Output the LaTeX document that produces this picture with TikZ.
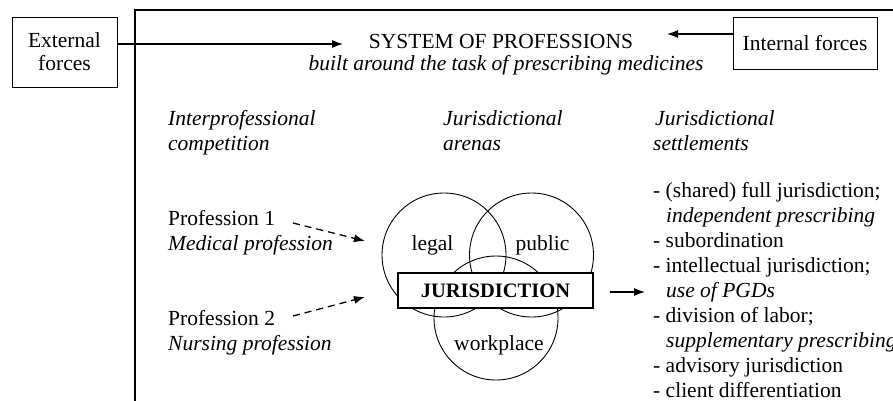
\documentclass[tikz,border=0pt]{standalone}
\usepackage{fontspec}
\setmainfont{Liberation Serif}
\usetikzlibrary{arrows.meta}
\begin{document}
\begin{tikzpicture}[x=1pt,y=-1pt,
  txt/.style={anchor=base west, inner sep=0pt, font=\fontsize{21.5}{25}\selectfont},
  itx/.style={anchor=base west, inner sep=0pt, font=\fontsize{21.5}{25}\selectfont\itshape},
  ctx/.style={anchor=base, inner sep=0pt, font=\fontsize{21.5}{25}\selectfont},
  arr/.style={-{Latex[length=11pt,width=8pt]}, line width=1.2pt},
  darr/.style={-{Latex[length=11pt,width=8pt]}, line width=1.3pt, dash pattern=on 7pt off 5pt},
  forcebox/.style={draw, line width=0.9pt, align=center, font=\fontsize{21.5}{23}\selectfont, inner sep=0pt},
  arena/.style={draw, circle, line width=0.9pt, minimum size=124pt, inner sep=0pt},
  jurbox/.style={draw, line width=2.6pt, fill=white, minimum width=195pt, minimum height=35pt, inner sep=0pt, font=\fontsize{20.5}{24}\selectfont\bfseries},
]
\useasboundingbox (0,0) rectangle (893,400);
\fill[white] (0,0) rectangle (893,400);
% frame (clipped by the page)
\coordinate (fTL) at (135,10);
\coordinate (fBL) at (135,410);
\coordinate (fTR) at (900,10);
\draw[line width=1.3pt] (fBL) -- (fTL) -- (fTR);

% forces
\node[forcebox, minimum width=105pt, minimum height=70pt] (ext) at (64.5,52) {External\\forces};
\node[forcebox, minimum width=144pt, minimum height=52pt] (int) at (805,43) {Internal forces};
\node[ctx] (sys) at (501,48) {SYSTEM OF PROFESSIONS};
\node[ctx, font=\fontsize{21.5}{25}\selectfont\itshape] (task) at (506,70) {built around the task of prescribing medicines};

\coordinate (extin) at (343,44);
\coordinate (intin) at (667,34);
\draw[arr] (ext.east |- extin) -- (extin);
\draw[arr] (int.west |- intin) -- (intin);

% headers
\node[itx] (h1a) at (168,125) {Interprofessional};
\node[itx] (h1b) at (168,150) {competition};
\node[itx] (h2a) at (443,125) {Jurisdictional};
\node[itx] (h2b) at (443,150) {arenas};
\node[itx] (h3a) at (655,125) {Jurisdictional};
\node[itx] (h3b) at (653,150) {settlements};

% professions
\node[txt] (p1) at (168,225) {Profession 1};
\node[itx] (p1b) at (168,250) {Medical profession};
\node[txt] (p2) at (168,325) {Profession 2};
\node[itx] (p2b) at (168,350) {Nursing profession};

\coordinate (d1s) at (293,223);
\coordinate (d1e) at (365,241);
\coordinate (d2s) at (293,316);
\coordinate (d2e) at (365,297);
\draw[darr] (d1s) -- (d1e);
\draw[darr] (d2s) -- (d2e);

% arenas
\node[arena] (legal) at (444,255) {};
\node[arena] (public) at (531.5,255) {};
\node[arena] (work) at (496,318) {};
\node[ctx] (legalt) at (432.5,250) {legal};
\node[ctx] (publict) at (542.5,250) {public};
\node[ctx] (workt) at (499,350) {workplace};
\node[jurbox] (jur) at (495.5,290.5) {JURISDICTION};

\coordinate (jurout) at (610,292);
\coordinate (setin) at (645,292);
\draw[arr] (jurout) -- (setin);

% settlements
\node[txt] (s1) at (653,197) {- (shared) full jurisdiction;};
\node[itx] (s1b) at (666,222) {independent prescribing};
\node[txt] (s2) at (653,247) {- subordination};
\node[txt] (s3) at (653,272) {- intellectual jurisdiction;};
\node[itx] (s3b) at (666,297) {use of PGDs};
\node[txt] (s4) at (653,322) {- division of labor;};
\node[itx] (s4b) at (666,347) {supplementary prescribing};
\node[txt] (s5) at (653,372) {- advisory jurisdiction};
\node[txt] (s6) at (653,397) {- client differentiation};
\end{tikzpicture}
\end{document}
